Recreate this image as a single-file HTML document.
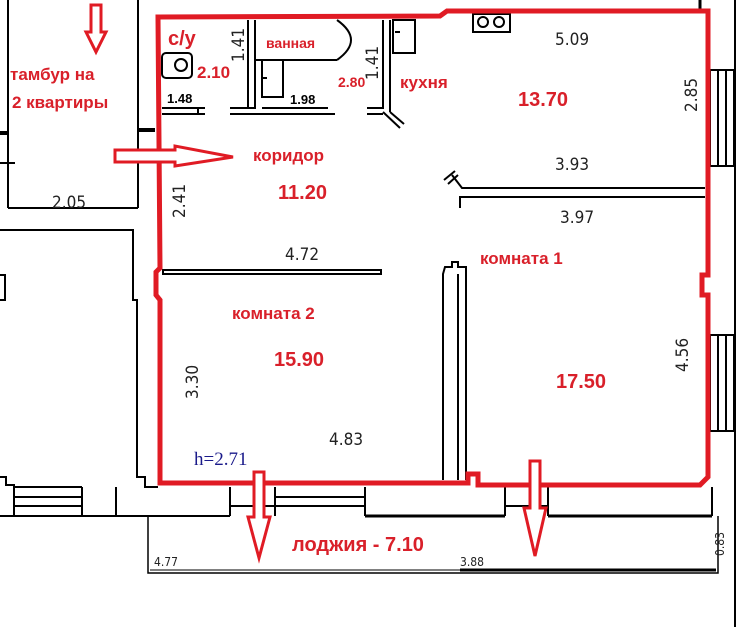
<!DOCTYPE html>
<html><head><meta charset="utf-8"><style>
html,body{margin:0;padding:0;background:#fff}
svg{display:block}
.r{fill:#d9202a;font-family:"Liberation Sans","DejaVu Sans",sans-serif;font-weight:bold}
.d{fill:#222;font-family:"DejaVu Sans Condensed","Liberation Sans",sans-serif;font-weight:300}
</style></head><body>
<svg width="745" height="627" viewBox="0 0 745 627" xmlns="http://www.w3.org/2000/svg">
<rect width="745" height="627" fill="#fff"/>
<g stroke="#000" fill="none" stroke-width="2">
<line x1="8" y1="0" x2="8" y2="208"/><line x1="138" y1="0" x2="138" y2="208"/>
<line x1="8" y1="208" x2="138" y2="208"/>
<line x1="138" y1="130" x2="155" y2="130" stroke-width="4"/>
<line x1="0" y1="163" x2="15" y2="163"/>
<line x1="0" y1="133" x2="8" y2="133" stroke-width="4"/>
<polyline points="0,230 133,230 133,300 137,300 137,477 145,477 145,487 158,487"/>
<polyline points="0,275 5,275 5,300 0,300"/>
<polyline points="0,477 6,477 6,485 14,485 14,516 0,516"/>
<line x1="14" y1="487" x2="82" y2="487"/><line x1="14" y1="497" x2="82" y2="497"/><line x1="14" y1="506" x2="82" y2="506"/><line x1="14" y1="516" x2="230" y2="516"/>
<line x1="82" y1="487" x2="82" y2="516"/><line x1="116" y1="487" x2="116" y2="516"/>
<line x1="230" y1="487" x2="230" y2="516"/><line x1="275" y1="487" x2="275" y2="516"/><line x1="365" y1="487" x2="365" y2="516"/>
<line x1="275" y1="497" x2="365" y2="497"/><line x1="275" y1="506" x2="365" y2="506"/>
<line x1="230" y1="506" x2="275" y2="506"/>
<line x1="365" y1="516" x2="505" y2="516" stroke-width="3"/>
<line x1="505" y1="487" x2="505" y2="516"/><line x1="548" y1="487" x2="548" y2="516"/>
<line x1="505" y1="506" x2="548" y2="506"/>
<line x1="548" y1="516" x2="712" y2="516" stroke-width="3"/>
<line x1="712" y1="487" x2="712" y2="516"/>
<polyline points="148,516 148,573 718,573 718,516" stroke-width="1.5"/>
<line x1="150" y1="570" x2="460" y2="570" stroke-width="1"/>
<line x1="460" y1="570" x2="716" y2="570" stroke-width="3"/>
<line x1="735" y1="0" x2="735" y2="627" stroke-width="2"/>
<line x1="700" y1="0" x2="700" y2="10" stroke-width="3"/>
<rect x="710" y="70" width="24" height="96"/><line x1="718" y1="70" x2="718" y2="166"/><line x1="726" y1="70" x2="726" y2="166"/>
<rect x="710" y="335" width="24" height="96"/><line x1="718" y1="335" x2="718" y2="431"/><line x1="726" y1="335" x2="726" y2="431"/>
<polyline points="162,108 205,108"/><polyline points="162,114 205,114"/><line x1="198" y1="108" x2="198" y2="114"/>
<polyline points="230,108 255,108 255,20"/><polyline points="230,114 335,114"/>
<polyline points="248,20 248,108"/>
<polyline points="262,108 328,108"/>
<polyline points="255,60 337,60"/><path d="M337,20 Q365,40 337,60"/>
<polyline points="262,60 262,97 283,97 283,60"/><line x1="262" y1="78" x2="267" y2="78"/>
<polyline points="383,20 383,108 367,108"/><polyline points="390,20 390,112"/><line x1="367" y1="114" x2="383" y2="114"/>
<line x1="383" y1="112" x2="400" y2="128"/><line x1="390" y1="112" x2="404" y2="124"/>
<rect x="393" y="20" width="22" height="33"/><line x1="395" y1="32" x2="400" y2="32"/>
<rect x="473" y="14" width="37" height="18"/><circle cx="483" cy="22" r="5"/><circle cx="499" cy="22" r="5"/>
<rect x="162" y="53" width="30" height="25" rx="4"/><circle cx="181" cy="65" r="6"/>
<polyline points="452,175 462,188 705,188"/><polyline points="460,208 460,197 705,197"/>
<line x1="444" y1="180" x2="455" y2="171"/><line x1="448" y1="184" x2="458" y2="175"/>
<rect x="163" y="270" width="218" height="4"/>
<polyline points="443,480 443,274 445,267 452,267 452,262 458,262 458,267 466,267 466,480"/>
<line x1="458" y1="274" x2="458" y2="480"/>
</g>
<path d="M158,17 L440,16 L447,11 L708,11 L708,275 L702,275 L702,295 L708,295 L708,477 L700,485 L478,485 L478,474 L468,474 L468,483 L160,483 L160,300 L156,295 L156,272 L160,268 L158,17 Z" fill="none" stroke="#e01b24" stroke-width="5"/>
<g fill="#fff" stroke="#e01b24" stroke-width="3">
<path d="M91,5 L101,5 L101,32 L106,32 L96,52 L86,32 L91,32 Z"/>
<path d="M115,150 L175,150 L175,146 L233,157 L175,166 L175,162 L115,162 Z"/>
<path d="M254,472 L264,472 L264,517 L270,517 L259,558 L248,517 L254,517 Z"/>
<path d="M530,461 L540,461 L540,508 L546,508 L535,556 L524,508 L530,508 Z"/>
</g>
<g class="r">
<text x="10" y="80" font-size="17">тамбур на</text>
<text x="12" y="108" font-size="17">2 квартиры</text>
<text x="168" y="45" font-size="20">с/у</text>
<text x="197" y="78" font-size="17">2.10</text>
<text x="266" y="48" font-size="14">ванная</text>
<text x="338" y="87" font-size="14">2.80</text>
<text x="400" y="88" font-size="17">кухня</text>
<text x="518" y="106" font-size="20">13.70</text>
<text x="253" y="161" font-size="17">коридор</text>
<text x="278" y="199" font-size="20">11.20</text>
<text x="480" y="264" font-size="17">комната 1</text>
<text x="232" y="319" font-size="17">комната 2</text>
<text x="274" y="366" font-size="20">15.90</text>
<text x="556" y="388" font-size="20">17.50</text>
<text x="292" y="551" font-size="20">лоджия - 7.10</text>
</g>
<g font-family="Liberation Sans,sans-serif" font-weight="bold" font-size="13" fill="#000">
<text x="167" y="103">1.48</text><text x="290" y="104">1.98</text>
</g>
<g class="d" font-size="17">
<text x="555" y="45">5.09</text>
<text x="555" y="170">3.93</text>
<text x="560" y="223">3.97</text>
<text x="285" y="260">4.72</text>
<text x="329" y="445">4.83</text>
<text x="52" y="208">2.05</text>
<text transform="translate(244,62) rotate(-90)">1.41</text>
<text transform="translate(378,80) rotate(-90)">1.41</text>
<text transform="translate(697,112) rotate(-90)">2.85</text>
<text transform="translate(185,218) rotate(-90)">2.41</text>
<text transform="translate(198,399) rotate(-90)">3.30</text>
<text transform="translate(688,372) rotate(-90)">4.56</text>
<text x="154" y="566" font-size="12">4.77</text>
<text x="460" y="566" font-size="12">3.88</text>
<text transform="translate(724,556) rotate(-90)" font-size="12">0.83</text>
</g>
<text x="194" y="465" font-family="Liberation Serif,serif" font-size="19" fill="#1a1a8a">h=2.71</text>
</svg>
</body></html>
